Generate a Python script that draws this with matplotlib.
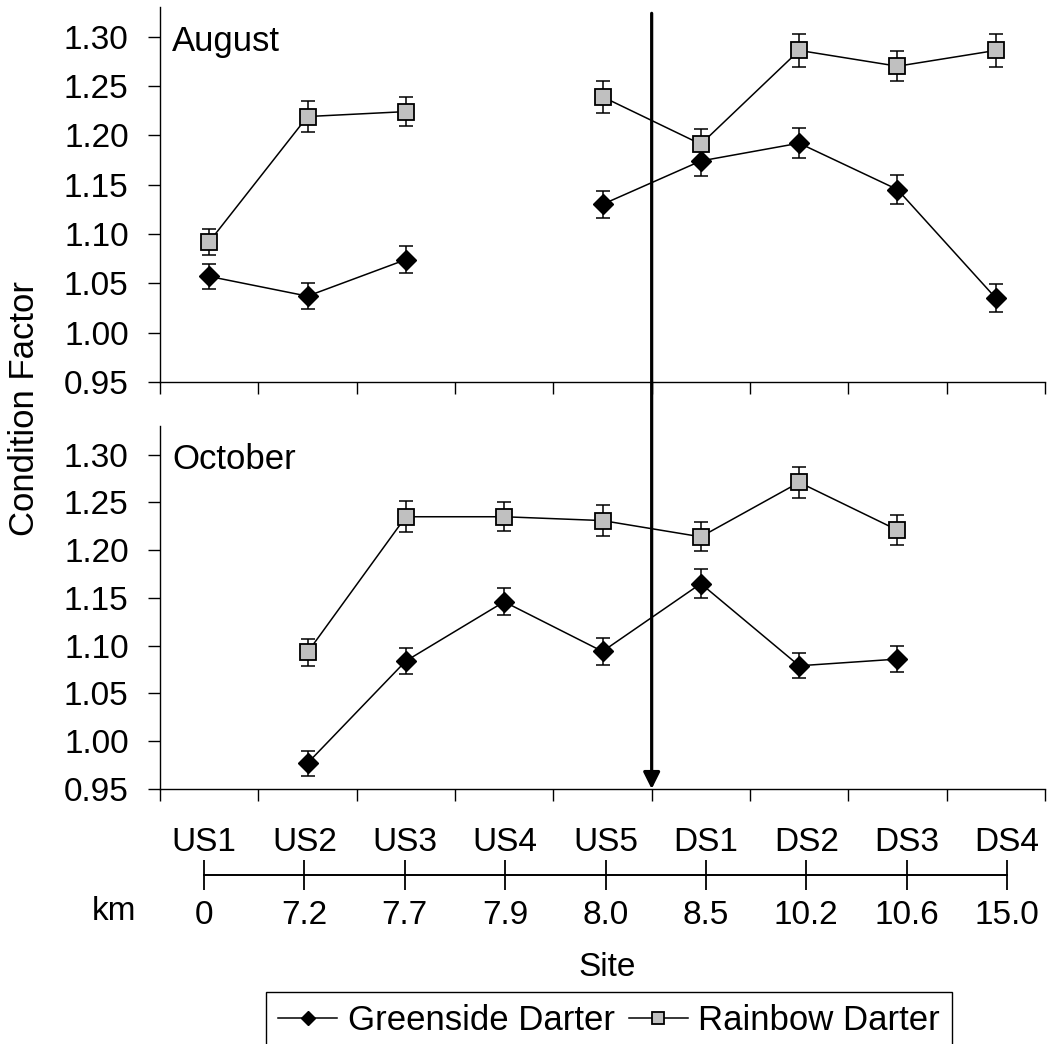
import numpy as np
import matplotlib.pyplot as plt
from matplotlib.ticker import FormatStrFormatter

plt.rcParams['font.family'] = ['Liberation Sans', 'DejaVu Sans']

FS = 24

sites = ["US1", "US2", "US3", "US4", "US5", "DS1", "DS2", "DS3", "DS4"]
km = ["0", "7.2", "7.7", "7.9", "8.0", "8.5", "10.2", "10.6", "15.0"]

nan = np.nan
# August
aug_greenside = [1.057, 1.037, 1.074, nan, 1.130, 1.174, 1.192, 1.145, 1.035]
aug_greenside_se = [0.013, 0.013, 0.014, nan, 0.014, 0.015, 0.015, 0.015, 0.014]
aug_rainbow = [1.092, 1.219, 1.224, nan, 1.239, 1.191, 1.286, 1.270, 1.286]
aug_rainbow_se = [0.013, 0.016, 0.015, nan, 0.016, 0.015, 0.017, 0.015, 0.017]
# October
oct_greenside = [nan, 0.977, 1.084, 1.146, 1.094, 1.165, 1.079, 1.086, nan]
oct_greenside_se = [nan, 0.013, 0.014, 0.014, 0.014, 0.015, 0.013, 0.014, nan]
oct_rainbow = [nan, 1.093, 1.235, 1.235, 1.231, 1.214, 1.271, 1.221, nan]
oct_rainbow_se = [nan, 0.014, 0.016, 0.015, 0.016, 0.015, 0.016, 0.016, nan]

W, H = 1047, 1044
fig = plt.figure(figsize=(W / 100, H / 100), dpi=100)


def px_axes(x0, y0, x1, y1):
    # pixel box (top-left origin) -> figure fraction
    return [x0 / W, 1 - y1 / H, (x1 - x0) / W, (y1 - y0) / H]


def draw_panel(ax, g, g_se, r, r_se, label, label_y):
    x = np.arange(len(sites))
    for vals, err in [(g, g_se), (r, r_se)]:
        ax.errorbar(x, vals, yerr=err, fmt='none', ecolor='black',
                    elinewidth=1.1, capsize=5, capthick=1.1, zorder=2)
    lg, = ax.plot(x, g, color='black', lw=1.1, marker='D', ms=10,
                  mfc='black', mec='black', zorder=3)
    lr, = ax.plot(x, r, color='black', lw=1.1, marker='s', ms=12,
                  mfc='#c0c0c0', mec='black', mew=1.3, zorder=3)
    ax.set_xlim(-0.5, 8.5)
    ax.set_ylim(0.95, 1.33)
    ax.set_xticks(np.arange(-0.5, 9.0, 1.0))
    ax.tick_params(axis='x', labelbottom=False)
    ax.set_yticks(np.arange(0.95, 1.301, 0.05))
    ax.yaxis.set_major_formatter(FormatStrFormatter('%.2f'))
    ax.tick_params(direction='out', length=8.5, width=1, labelsize=FS)
    ax.tick_params(axis='y', pad=14)
    for s in ['top', 'right']:
        ax.spines[s].set_visible(False)
    for s in ['left', 'bottom']:
        ax.spines[s].set_linewidth(1.0)
    ax.text(0.014, label_y, label, transform=ax.transAxes, fontsize=25,
            ha='left', va='top')
    return lg, lr


ax_top = fig.add_axes(px_axes(160, 7, 1045, 382))
ax_bot = fig.add_axes(px_axes(160, 426, 1045, 789))

lg, lr = draw_panel(ax_top, aug_greenside, aug_greenside_se,
                    aug_rainbow, aug_rainbow_se, "August", 0.951)
draw_panel(ax_bot, oct_greenside, oct_greenside_se,
           oct_rainbow, oct_rainbow_se, "October", 0.953)

# vertical arrow between US5 and DS1
ax_bot.annotate('', xy=(4.5, 0.95), xytext=(4.5, 1.762),
                textcoords='data', annotation_clip=False,
                arrowprops=dict(arrowstyle='-|>,head_length=0.5,head_width=0.25',
                                lw=2.3, color='black', mutation_scale=20,
                                shrinkA=0, shrinkB=0))

fig.text(25 / W, 1 - 409 / H, "Condition Factor", rotation=90,
         ha='center', va='center', fontsize=25)

# site / km scale
ax_km = fig.add_axes(px_axes(204, 875, 1007, 875.1))
ax_km.patch.set_visible(False)
ax_km.set_xlim(0, 8)
ax_km.set_ylim(0, 1)
ax_km.set_yticks([])
for s in ['top', 'right', 'left']:
    ax_km.spines[s].set_visible(False)
ax_km.spines['bottom'].set_linewidth(1.4)
ax_km.set_xticks(range(len(km)))
ax_km.set_xticklabels(km)
ax_km.tick_params(axis='x', direction='inout', length=21.6, width=1.3,
                  pad=7, labelsize=FS)
sec = ax_km.secondary_xaxis('top')
sec.set_xticks(range(len(sites)), labels=sites)
sec.tick_params(length=0, pad=12, labelsize=FS)
sec.spines['top'].set_visible(False)

fig.text(114 / W, 1 - 912 / H, "km", ha='center', va='center', fontsize=FS)
fig.text(607 / W, 1 - 968 / H, "Site", ha='center', va='center', fontsize=FS)

leg = fig.legend(handles=[lg, lr], labels=["Greenside Darter", "Rainbow Darter"],
                 loc='upper center', bbox_to_anchor=(609 / W, 1 - 992 / H),
                 ncol=2, frameon=True, fancybox=False, edgecolor='black',
                 framealpha=1, fontsize=25, handlelength=1.7,
                 handletextpad=0.3, columnspacing=0.4, borderpad=0.35,
                 borderaxespad=0, markerscale=0.75)
leg.get_frame().set_linewidth(1.0)

fig.savefig("out.png", dpi=100)
